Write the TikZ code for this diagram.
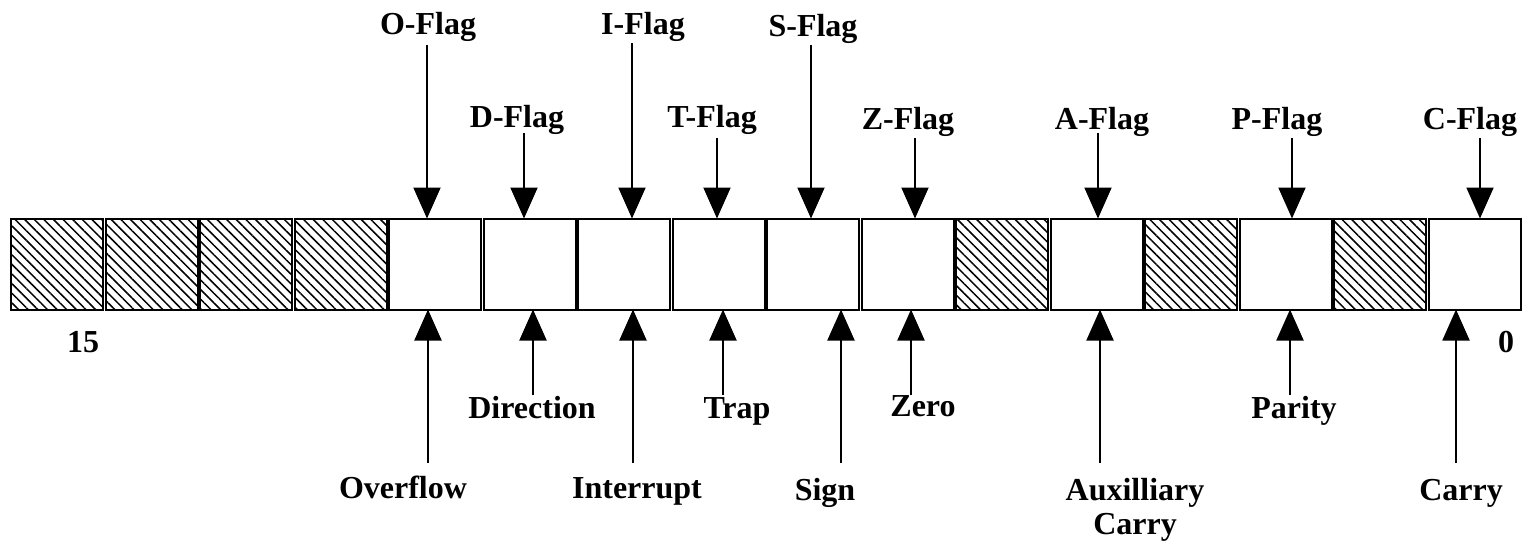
\documentclass[tikz,border=0pt]{standalone}
\usepackage{fontspec}
\setmainfont{Liberation Serif}
\usepackage{tikz}
\usetikzlibrary{arrows.meta,patterns.meta}

\begin{document}
\begin{tikzpicture}[x=0.5pt, y=-0.5pt,
  bit/.style={draw, line width=1pt, minimum width=46pt, minimum height=45.5pt, inner sep=0pt, outer sep=0pt},
  hbit/.style={bit, pattern={Lines[angle=-45, distance=3.4pt, line width=0.75pt]}},
  lbl/.style={font=\fontsize{16}{17}\selectfont\bfseries, inner sep=1pt, text height=0.7em, text depth=0.22em, align=center},
  flagarr/.style={line width=1pt, -{Triangle[width=13.5pt, length=15.5pt]}}]
  \useasboundingbox (0,0) rectangle (1527,541);
  % the 16 bits of the flag register
  \node[hbit] (b15) at (57.25,264)   {};
  \node[hbit] (b14) at (151.75,264)  {};
  \node[hbit] (b13) at (246.25,264)  {};
  \node[hbit] (b12) at (340.75,264)  {};
  \node[bit]  (b11) at (435.25,264)  {};
  \node[bit]  (b10) at (529.75,264)  {};
  \node[bit]  (b9)  at (624.25,264)  {};
  \node[bit]  (b8)  at (718.75,264)  {};
  \node[bit]  (b7)  at (813.25,264)  {};
  \node[bit]  (b6)  at (907.75,264)  {};
  \node[hbit] (b5)  at (1002.25,264) {};
  \node[bit]  (b4)  at (1096.75,264) {};
  \node[hbit] (b3)  at (1191.25,264) {};
  \node[bit]  (b2)  at (1285.75,264) {};
  \node[hbit] (b1)  at (1380.25,264) {};
  \node[bit]  (b0)  at (1474.75,264) {};
  \node[lbl] (msb) at (83,348)   {15};
  \node[lbl] (lsb) at (1506,348) {0};
  % flag names above
  \node[lbl] (oflag) at (428,30)   {O-Flag};
  \node[lbl] (dflag) at (517,123)  {D-Flag};
  \node[lbl] (iflag) at (643,30)   {I-Flag};
  \node[lbl] (tflag) at (712,123)  {T-Flag};
  \node[lbl] (sflag) at (813,32)   {S-Flag};
  \node[lbl] (zflag) at (908,125)  {Z-Flag};
  \node[lbl] (aflag) at (1102,125) {A-Flag};
  \node[lbl] (pflag) at (1277,125) {P-Flag};
  \node[lbl] (cflag) at (1470,125) {C-Flag};
  \coordinate (ot) at (427,45);
  \coordinate (dt) at (524,133);
  \coordinate (it) at (632,43);
  \coordinate (tt) at (717,138);
  \coordinate (st) at (811,45);
  \coordinate (zt) at (915,138);
  \coordinate (at) at (1098,133);
  \coordinate (pt) at (1292,138);
  \coordinate (ct) at (1480,138);
  \draw[flagarr] (ot) -- (ot |- b11.north);
  \draw[flagarr] (dt) -- (dt |- b10.north);
  \draw[flagarr] (it) -- (it |- b9.north);
  \draw[flagarr] (tt) -- (tt |- b8.north);
  \draw[flagarr] (st) -- (st |- b7.north);
  \draw[flagarr] (zt) -- (zt |- b6.north);
  \draw[flagarr] (at) -- (at |- b4.north);
  \draw[flagarr] (pt) -- (pt |- b2.north);
  \draw[flagarr] (ct) -- (ct |- b0.north);
  % meanings below
  \node[lbl] (ovf)  at (403,494)  {Overflow};
  \node[lbl] (dir)  at (532,414)  {Direction};
  \node[lbl] (intr) at (637,494)  {Interrupt};
  \node[lbl] (trap) at (737,414)  {Trap};
  \node[lbl] (sign) at (825,496)  {Sign};
  \node[lbl] (zero) at (923,412)  {Zero};
  \node[lbl] (aux)  at (1135,530) {Auxilliary\\Carry};
  \node[lbl] (par)  at (1294,414) {Parity};
  \node[lbl] (cry)  at (1461,496) {Carry};
  \coordinate (ob) at (428,463);
  \coordinate (db) at (533,395);
  \coordinate (ib) at (633,463);
  \coordinate (tb) at (723,395);
  \coordinate (sb) at (841,463);
  \coordinate (zb) at (911,395);
  \coordinate (ab) at (1100,463);
  \coordinate (pb) at (1290,395);
  \coordinate (cb) at (1456,463);
  \draw[flagarr] (ob) -- (ob |- b11.south);
  \draw[flagarr] (db) -- (db |- b10.south);
  \draw[flagarr] (ib) -- (ib |- b9.south);
  \draw[flagarr] (tb) -- (tb |- b8.south);
  \draw[flagarr] (sb) -- (sb |- b7.south);
  \draw[flagarr] (zb) -- (zb |- b6.south);
  \draw[flagarr] (ab) -- (ab |- b4.south);
  \draw[flagarr] (pb) -- (pb |- b2.south);
  \draw[flagarr] (cb) -- (cb |- b0.south);
\end{tikzpicture}
\end{document}
